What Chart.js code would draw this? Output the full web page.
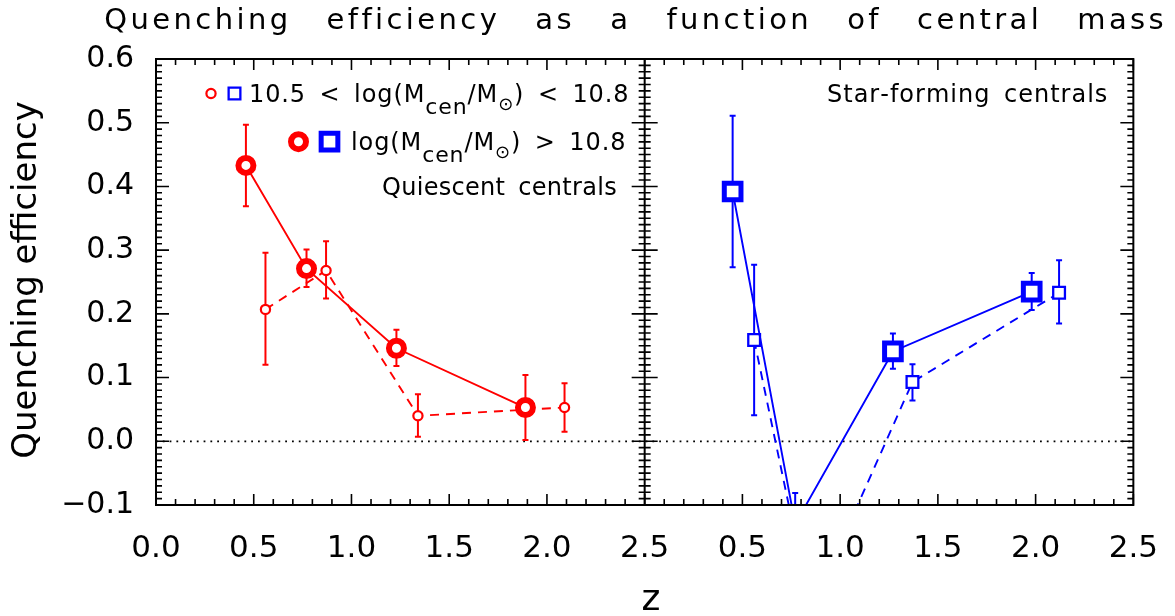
<!DOCTYPE html>
<html>
<head>
<meta charset="utf-8">
<script src="https://cdn.jsdelivr.net/npm/chart.js@4/dist/chart.umd.min.js"></script>
<style>
  html, body { margin: 0; padding: 0; background: #fff; }
</style>
</head>
<body>
<canvas id="quenchChart" width="1175" height="616"></canvas>
<script>
// quiescent centrals (left panel)
var zQuiHigh   = [0.46, 0.77, 1.23, 1.89];
var effQuiHigh = [0.433, 0.271, 0.146, 0.053];
var loQuiHigh  = [0.369, 0.242, 0.118, 0.002];
var hiQuiHigh  = [0.497, 0.301, 0.175, 0.104];

var zQuiLow   = [0.56, 0.87, 1.34, 2.09];
var effQuiLow = [0.207, 0.268, 0.040, 0.053];
var loQuiLow  = [0.120, 0.224, 0.007, 0.015];
var hiQuiLow  = [0.296, 0.314, 0.074, 0.091];

// star-forming centrals (right panel)
var zSfHigh   = [0.45, 0.77, 1.27, 1.98];
var effSfHigh = [0.392, -0.130, 0.141, 0.235];
var loSfHigh  = [0.273, -0.180, 0.114, 0.206];
var hiSfHigh  = [0.511, -0.081, 0.169, 0.264];

var zSfLow   = [0.56, 0.85, 1.37, 2.12];
var effSfLow = [0.159, -0.265, 0.093, 0.233];
var loSfLow  = [0.041, -0.330, 0.064, 0.185];
var hiSfLow  = [0.277, -0.200, 0.121, 0.284];

// the right panel sits after the left one on a shared x axis
var PANEL_SHIFT = 2.5;
var X_MAX = 5.0;
var Y_MIN = -0.1, Y_MAX = 0.6;

var FONT = '"DejaVu Sans", sans-serif';
var RED = '#ff0000', BLUE = '#0000ff';

function points(zs, ys, shift) {
    return zs.map(function(z, i) { return {x: z + shift, y: ys[i]}; });
}

var bigCircle = {pointStyle: 'circle', radius: 7.5, borderWidth: 6};
var smallCircle = {pointStyle: 'circle', radius: 4.6, borderWidth: 2.2};
var bigSquare = {pointStyle: 'rect', radius: 11.8, borderWidth: 5};
var smallSquare = {pointStyle: 'rect', radius: 8.3, borderWidth: 2.3};

function makeSet(label, zs, ys, lo, hi, shift, color, marker, dashed) {
    return {
        label: label,
        data: points(zs, ys, shift),
        errLo: lo,
        errHi: hi,
        borderColor: color,
        borderWidth: 1.9,
        borderDash: dashed ? [9, 7] : [],
        pointStyle: marker.pointStyle,
        pointRadius: marker.radius,
        pointBorderWidth: marker.borderWidth,
        pointBorderColor: color,
        pointBackgroundColor: '#ffffff',
        fill: false,
        tension: 0,
        clip: 0
    };
}

// error bars and the zero line, drawn under the markers
var errorBars = {
    id: 'errorBars',
    beforeDatasetsDraw: function(chart) {
        var ctx = chart.ctx, a = chart.chartArea;
        var xs = chart.scales.x, ys = chart.scales.y;
        ctx.save();
        ctx.beginPath();
        ctx.rect(a.left, a.top, a.right - a.left, a.bottom - a.top);
        ctx.clip();

        ctx.strokeStyle = '#000';
        ctx.lineWidth = 1.8;
        ctx.setLineDash([1.8, 5]);
        ctx.beginPath();
        ctx.moveTo(a.left, ys.getPixelForValue(0));
        ctx.lineTo(a.right, ys.getPixelForValue(0));
        ctx.stroke();
        ctx.setLineDash([]);

        chart.data.datasets.forEach(function(ds) {
            ctx.strokeStyle = ds.borderColor;
            ctx.lineWidth = 2;
            ds.data.forEach(function(p, i) {
                var x = xs.getPixelForValue(p.x);
                var y1 = ys.getPixelForValue(ds.errLo[i]);
                var y2 = ys.getPixelForValue(ds.errHi[i]);
                ctx.beginPath();
                ctx.moveTo(x, y1); ctx.lineTo(x, y2);
                ctx.moveTo(x - 3, y1); ctx.lineTo(x + 3, y1);
                ctx.moveTo(x - 3, y2); ctx.lineTo(x + 3, y2);
                ctx.stroke();
            });
        });
        ctx.restore();
    }
};

// IDL style frame with inward ticks on every side
var frame = {
    id: 'frame',
    afterDraw: function(chart) {
        var ctx = chart.ctx, a = chart.chartArea;
        var xs = chart.scales.x, ys = chart.scales.y;
        var mid = xs.getPixelForValue(PANEL_SHIFT);
        ctx.save();
        ctx.strokeStyle = '#000';
        ctx.lineWidth = 2;
        ctx.strokeRect(a.left, a.top, a.right - a.left, a.bottom - a.top);
        ctx.beginPath();
        ctx.moveTo(mid, a.top); ctx.lineTo(mid, a.bottom);
        ctx.stroke();

        ctx.lineWidth = 1.6;
        ctx.beginPath();
        for (var i = 0; i <= X_MAX * 10; i++) {
            var x = xs.getPixelForValue(i / 10);
            var len = (i % 5 === 0) ? 11 : 6;
            ctx.moveTo(x, a.bottom); ctx.lineTo(x, a.bottom - len);
            ctx.moveTo(x, a.top); ctx.lineTo(x, a.top + len);
        }
        for (var j = Math.round(Y_MIN * 100); j <= Math.round(Y_MAX * 100); j++) {
            var y = ys.getPixelForValue(j / 100);
            var l = (j % 10 === 0) ? 13 : 6;
            ctx.moveTo(a.left, y); ctx.lineTo(a.left + l, y);
            ctx.moveTo(a.right, y); ctx.lineTo(a.right - l, y);
            ctx.moveTo(mid - l, y); ctx.lineTo(mid + l, y);
        }
        ctx.stroke();
        ctx.restore();
    }
};

// wide IDL-like text: extra room after each letter and each space
function spacedWidth(ctx, text, ls, ws) {
    var w = 0;
    for (var k = 0; k < text.length; k++) {
        w += ctx.measureText(text[k]).width + ls + (text[k] === ' ' ? ws : 0);
    }
    return w - ls;
}

function drawSpaced(ctx, text, x, y, ls, ws) {
    for (var k = 0; k < text.length; k++) {
        ctx.fillText(text[k], x, y);
        x += ctx.measureText(text[k]).width + ls + (text[k] === ' ' ? ws : 0);
    }
    return x;
}

function drawRuns(ctx, runs, x, y, ls, ws) {
    runs.forEach(function(r) {
        ctx.font = r[1] + 'px ' + FONT;
        x = drawSpaced(ctx, r[0], x, y + (r[2] || 0), ls, ws);
    });
}

function drawMarker(ctx, marker, color, x, y) {
    ctx.save();
    ctx.strokeStyle = color;
    ctx.fillStyle = '#ffffff';
    ctx.lineWidth = marker.borderWidth;
    Chart.helpers.drawPoint(ctx, {pointStyle: marker.pointStyle, radius: marker.radius, rotation: 0, borderWidth: marker.borderWidth}, x, y);
    ctx.restore();
}

// titles, legend and panel labels
var labels = {
    id: 'labels',
    afterDraw: function(chart) {
        var ctx = chart.ctx;
        ctx.save();
        ctx.fillStyle = '#000';
        ctx.textBaseline = 'alphabetic';
        ctx.textAlign = 'left';

        var title = 'Quenching efficiency as a function of central mass';
        ctx.font = '29px ' + FONT;
        var tw = spacedWidth(ctx, title, 3.4, 22.5);
        drawSpaced(ctx, title, 634 - tw / 2, 29, 3.4, 22.5);

        ctx.font = '36px ' + FONT;
        ctx.textAlign = 'center';
        ctx.fillText('z', 651, 610);

        ctx.save();
        ctx.translate(36, 280);
        ctx.rotate(-Math.PI / 2);
        ctx.font = '34px ' + FONT;
        ctx.fillText('Quenching efficiency', 0, 0);
        ctx.restore();

        ctx.textAlign = 'left';
        drawRuns(ctx, [['10.5 < log(M', 24], ['cen', 22, 12], ['/M', 24], ['\u2299', 18, 8], [') < 10.8', 24]], 249, 102, 0.9, 5);
        drawRuns(ctx, [['log(M', 24], ['cen', 22, 12], ['/M', 24], ['\u2299', 18, 8], [') > 10.8', 24]], 351, 150, 0.9, 5);
        drawRuns(ctx, [['Quiescent centrals', 24]], 382, 195, 0.3, 5);
        drawRuns(ctx, [['Star-forming centrals', 24]], 827, 102, 1.0, 5);
        ctx.restore();

        drawMarker(ctx, smallCircle, RED, 211, 93.5);
        drawMarker(ctx, smallSquare, BLUE, 234.5, 93.5);
        drawMarker(ctx, bigCircle, RED, 298.5, 141.7);
        drawMarker(ctx, bigSquare, BLUE, 329.5, 141.7);
    }
};

var ctx = document.getElementById('quenchChart').getContext('2d');
var quenchChart = new Chart(ctx, {
    type: 'line',
    data: {
        datasets: [
            makeSet('Quiescent, log M > 10.8', zQuiHigh, effQuiHigh, loQuiHigh, hiQuiHigh, 0, RED, bigCircle, false),
            makeSet('Star-forming, log M > 10.8', zSfHigh, effSfHigh, loSfHigh, hiSfHigh, PANEL_SHIFT, BLUE, bigSquare, false),
            makeSet('Quiescent, 10.5 < log M < 10.8', zQuiLow, effQuiLow, loQuiLow, hiQuiLow, 0, RED, smallCircle, true),
            makeSet('Star-forming, 10.5 < log M < 10.8', zSfLow, effSfLow, loSfLow, hiSfLow, PANEL_SHIFT, BLUE, smallSquare, true)
        ]
    },
    options: {
        responsive: false,
        animation: false,
        layout: { padding: { top: 59, right: 32, bottom: 0, left: 0 } },
        plugins: {
            legend: { display: false },
            tooltip: { enabled: false }
        },
        scales: {
            x: {
                type: 'linear',
                min: 0,
                max: X_MAX,
                grid: { display: false },
                border: { display: false },
                ticks: {
                    stepSize: 0.5,
                    padding: 17,
                    color: '#000',
                    font: { family: FONT, size: 31 },
                    maxRotation: 0,
                    callback: function(v) {
                        var z = v > PANEL_SHIFT + 1e-6 ? v - PANEL_SHIFT : v;
                        return z.toFixed(1);
                    }
                },
                afterFit: function(scale) { scale.height = 111; }
            },
            y: {
                type: 'linear',
                min: Y_MIN,
                max: Y_MAX,
                grid: { display: false },
                border: { display: false },
                ticks: {
                    stepSize: 0.1,
                    padding: 14,
                    color: '#000',
                    font: { family: FONT, size: 30 },
                    callback: function(v) {
                        var s = Math.abs(v) < 1e-9 ? '0.0' : v.toFixed(1);
                        return s.replace('-', '\u2212');
                    }
                },
                afterFit: function(scale) { scale.width = 156; }
            }
        }
    },
    plugins: [errorBars, frame, labels]
});
</script>
</body>
</html>
